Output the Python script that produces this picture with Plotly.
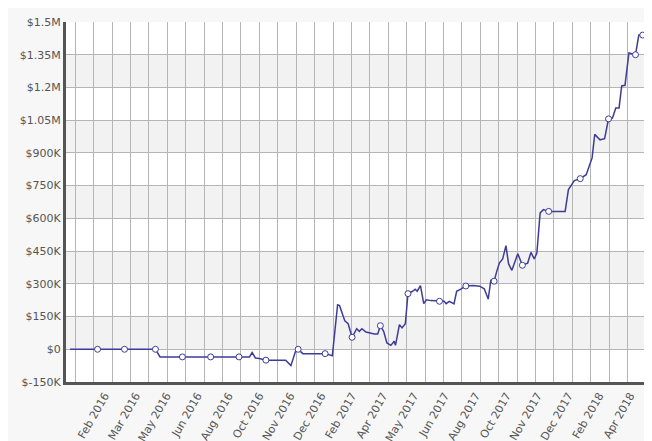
import plotly.graph_objects as go

# balance series
dates = [
    "2015-12-12", "2016-01-23", "2016-03-04", "2016-04-20", "2016-04-27", "2016-05-31",
    "2016-07-13", "2016-08-25", "2016-09-10", "2016-09-14", "2016-09-19", "2016-09-25",
    "2016-10-05", "2016-11-04", "2016-11-12", "2016-11-20", "2016-11-23", "2016-11-30",
    "2017-01-03", "2017-01-14", "2017-01-22", "2017-01-25", "2017-02-02", "2017-02-07",
    "2017-02-13", "2017-02-20", "2017-02-24", "2017-02-28", "2017-03-06", "2017-03-19",
    "2017-03-24", "2017-03-28", "2017-04-02", "2017-04-07", "2017-04-13", "2017-04-18",
    "2017-04-20", "2017-04-26", "2017-04-30", "2017-05-05", "2017-05-09", "2017-05-16",
    "2017-05-20", "2017-05-23", "2017-05-28", "2017-06-02", "2017-06-06", "2017-06-13",
    "2017-06-26", "2017-07-03", "2017-07-06", "2017-07-11", "2017-07-18", "2017-07-22",
    "2017-07-29", "2017-08-05", "2017-08-16", "2017-08-26", "2017-09-02", "2017-09-08",
    "2017-09-12", "2017-09-17", "2017-09-21", "2017-09-25", "2017-09-30", "2017-10-05",
    "2017-10-09", "2017-10-14", "2017-10-23", "2017-10-30", "2017-11-07", "2017-11-12",
    "2017-11-17", "2017-11-21", "2017-11-26", "2017-12-01", "2017-12-09", "2018-01-03",
    "2018-01-08", "2018-01-17", "2018-01-26", "2018-02-04", "2018-02-13", "2018-02-17",
    "2018-02-25", "2018-03-04", "2018-03-10", "2018-03-16", "2018-03-21", "2018-03-26",
    "2018-03-30", "2018-04-04", "2018-04-10", "2018-04-16", "2018-04-20", "2018-04-25",
    "2018-05-01",
]
balance = [
    0, 0, 0, 0, -35000, -35000,
    -35000, -35000, -35000, -15000, -40000, -42000,
    -50000, -50000, -75000, 0, 0, -20000,
    -20000, -30000, 204000, 200000, 130000, 117000,
    55000, 94000, 82000, 94000, 79000, 70000,
    70000, 108000, 82000, 29000, 18000, 37000,
    18000, 113000, 98000, 117000, 255000, 266000,
    275000, 266000, 292000, 209000, 227000, 223000,
    220000, 220000, 209000, 220000, 208000, 266000,
    277000, 290000, 292000, 289000, 277000, 230000,
    316000, 312000, 357000, 395000, 414000, 475000,
    391000, 362000, 438000, 385000, 395000, 444000,
    414000, 441000, 625000, 640000, 632000, 632000,
    732000, 773000, 782000, 800000, 877000, 985000,
    960000, 965000, 1056000, 1060000, 1106000, 1106000,
    1207000, 1210000, 1358000, 1355000, 1350000, 1440000,
    1440000,
]
marker_dates = [
    "2016-01-23", "2016-03-04", "2016-04-20", "2016-05-31", "2016-07-13", "2016-08-25",
    "2016-10-05", "2016-11-23", "2017-01-03", "2017-02-13", "2017-03-28", "2017-05-09",
    "2017-06-26", "2017-08-05", "2017-09-17", "2017-10-30", "2017-12-09", "2018-01-26",
    "2018-03-10", "2018-04-20", "2018-05-01",
]
lookup = dict(zip(dates, balance))
marker_vals = [lookup[d] for d in marker_dates]

x_tick_dates = [
    "2016-02-03", "2016-03-21", "2016-05-07", "2016-06-23", "2016-08-09", "2016-09-25",
    "2016-11-11", "2016-12-28", "2017-02-13", "2017-04-01", "2017-05-18", "2017-07-04",
    "2017-08-20", "2017-10-06", "2017-11-22", "2018-01-08", "2018-02-24", "2018-04-12",
]
x_tick_text = [
    "Feb 2016", "Mar 2016", "May 2016", "Jun 2016", "Aug 2016", "Oct 2016",
    "Nov 2016", "Dec 2016", "Feb 2017", "Apr 2017", "May 2017", "Jun 2017",
    "Aug 2017", "Oct 2017", "Nov 2017", "Dec 2017", "Feb 2018", "Apr 2018",
]
y_ticks = [-150000, 0, 150000, 300000, 450000, 600000, 750000, 900000,
           1050000, 1200000, 1350000, 1500000]
y_text = ["$-150K", "$0", "$150K", "$300K", "$450K", "$600K", "$750K", "$900K",
          "$1.05M", "$1.2M", "$1.35M", "$1.5M"]

fig = go.Figure()

# alternating grey bands
shapes = []
for i in range(len(y_ticks) - 1):
    if i % 2 == 1:
        shapes.append(dict(type="rect", xref="paper", yref="y", x0=0, x1=1,
                           y0=y_ticks[i], y1=y_ticks[i + 1], fillcolor="#f2f2f2",
                           line_width=0, layer="below"))

fig.add_trace(go.Scatter(x=dates, y=balance, mode="lines",
                         line=dict(color="#3d3d99", width=1.5), hoverinfo="x+y"))
fig.add_trace(go.Scatter(x=marker_dates, y=marker_vals, mode="markers",
                         marker=dict(symbol="circle", size=6, color="white",
                                     line=dict(color="#3d3d99", width=1))))

fig.update_layout(
    width=652, height=441, showlegend=False,
    paper_bgcolor="#f7f7f7", plot_bgcolor="white",
    margin=dict(l=58, r=12, t=14, b=67),
    font=dict(family="DejaVu Sans", size=11, color="#555"),
    shapes=shapes,
    xaxis=dict(
        type="date", range=["2015-12-06", "2018-05-09"], automargin=False,
        tickvals=x_tick_dates, ticktext=x_tick_text, tickangle=-60,
        showgrid=False, showline=True, linecolor="#555", linewidth=3,
        ticks="", zeroline=False,
        minor=dict(tick0="2015-12-20", dtick=28 * 86400000, showgrid=True,
                   gridcolor="#b5b5b5", gridwidth=1),
    ),
    yaxis=dict(
        range=[-150000, 1500000], tickvals=y_ticks, ticktext=y_text,
        automargin=False,
        gridcolor="#b5b5b5", showline=True, mirror=True, linecolor="#555",
        linewidth=3, zeroline=False, ticks="",
    ),
)

fig.write_html("out.html")
